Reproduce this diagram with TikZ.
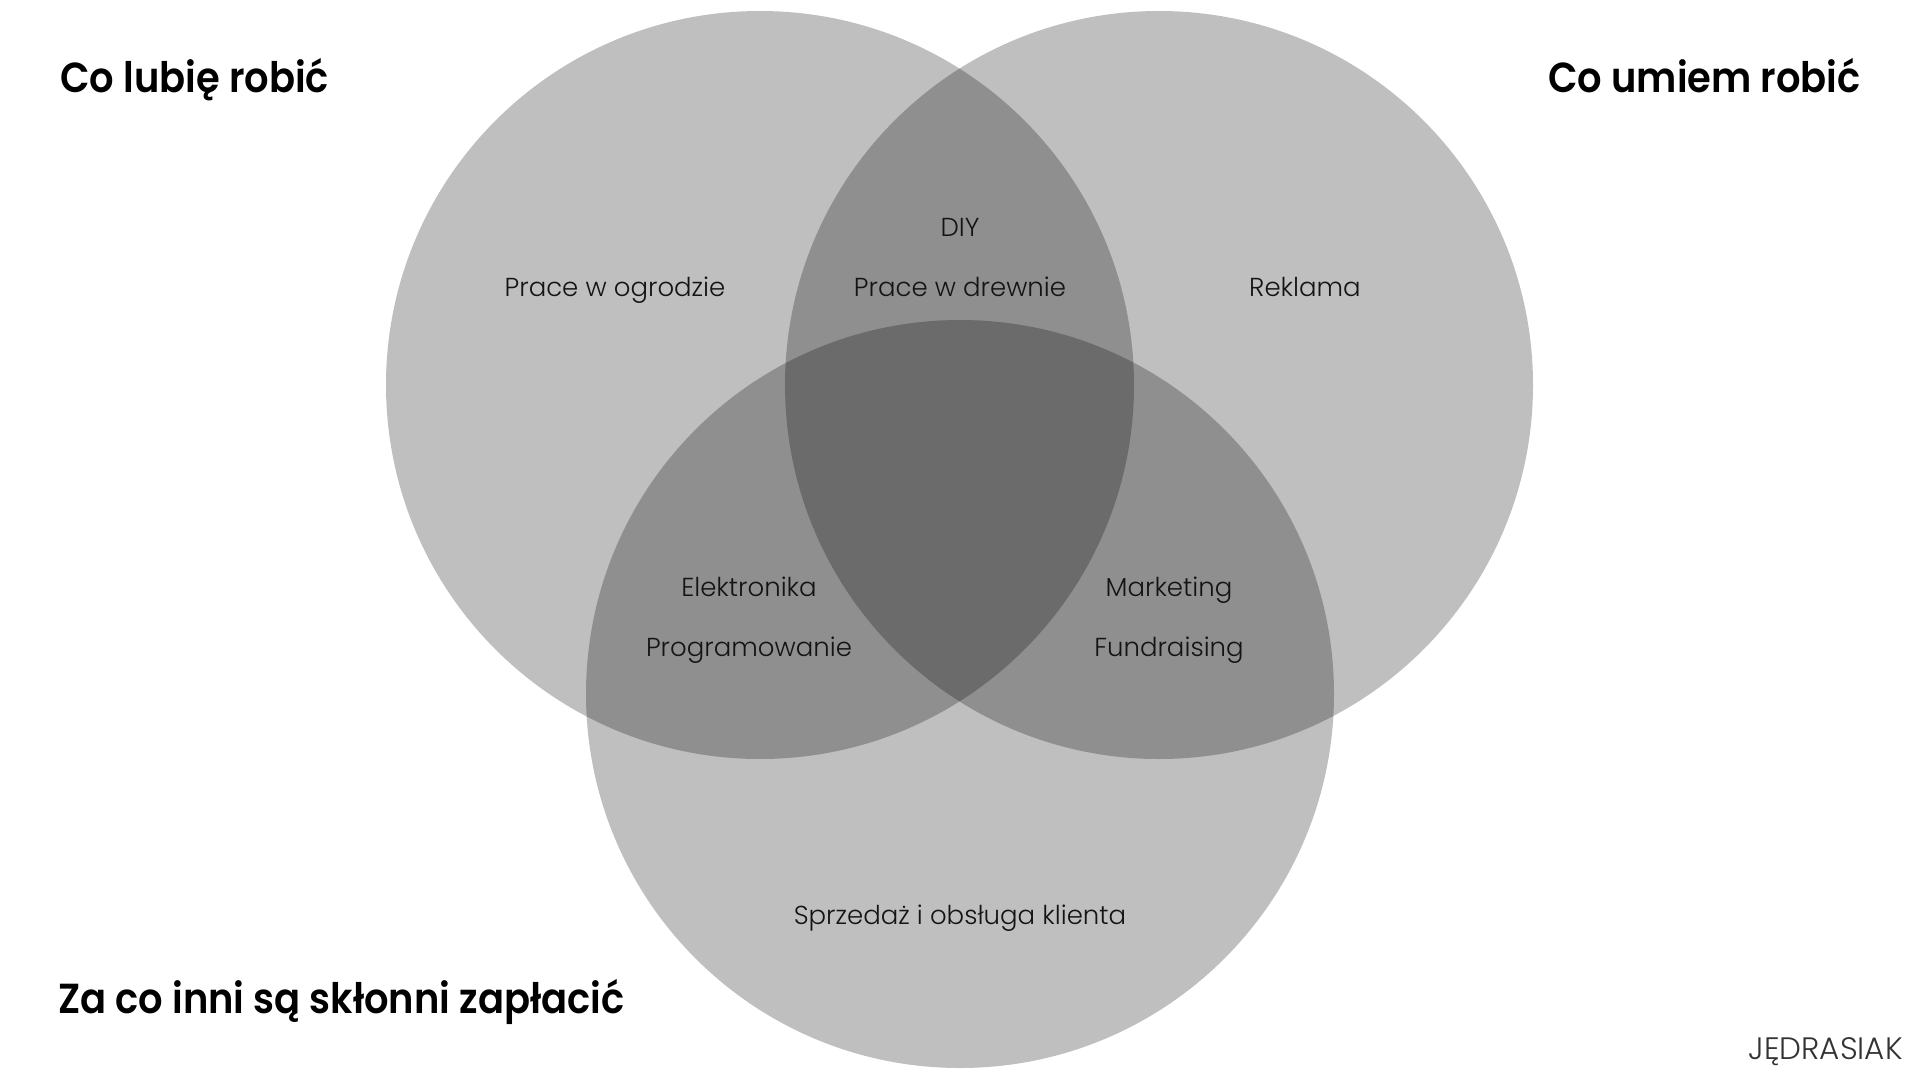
\documentclass[tikz,border=0pt]{standalone}
\usepackage{fontspec}
\setmainfont{Poppins}
\newfontfamily\titlefont{Poppins}[UprightFont={* SemiBold}, FakeStretch=0.915]
\newfontfamily\lightfont{Poppins}[UprightFont={* Light}]
\begin{document}
\begin{tikzpicture}[x=1pt,y=-1pt,
  venn/.style={circle, minimum size=748pt, inner sep=0pt, fill=black, fill opacity=0.25, draw=none},
  heading/.style={anchor=base west, inner sep=0pt, font=\titlefont\fontsize{42}{48}\selectfont, text=black},
  label/.style={anchor=base, inner sep=0pt, font=\lightfont\fontsize{26}{30}\selectfont, text=black!92},
  brand/.style={anchor=base east, inner sep=0pt, font=\lightfont\fontsize{31}{36}\selectfont, text=black!80}]
\useasboundingbox (0,0) rectangle (1920,1080);
\fill[white] (0,0) rectangle (1920,1080);
\node[venn] (lubie) at (760,385) {};
\node[venn] (umiem) at (1159,385) {};
\node[venn] (placa) at (960,694) {};
\node[heading] (h1) at (60,92) {Co lubię robić};
\node[heading, anchor=base east] (h2) at (1861,92) {Co umiem robić};
\node[heading] (h3) at (58,1013) {Za co inni są skłonni zapłacić};
\node[brand] (logo) at (1903,1059) {JĘDRASIAK};
\node[label] (l1) at (615,296) {Prace w ogrodzie};
\node[label] (l2) at (960,236) {DIY};
\node[label] (l3) at (960,296) {Prace w drewnie};
\node[label] (l4) at (1305,296) {Reklama};
\node[label] (l5) at (749,596) {Elektronika};
\node[label] (l6) at (749,656) {Programowanie};
\node[label] (l7) at (1169,596) {Marketing};
\node[label] (l8) at (1169,656) {Fundraising};
\node[label] (l9) at (960,924) {Sprzedaż i obsługa klienta};
\end{tikzpicture}
\end{document}
